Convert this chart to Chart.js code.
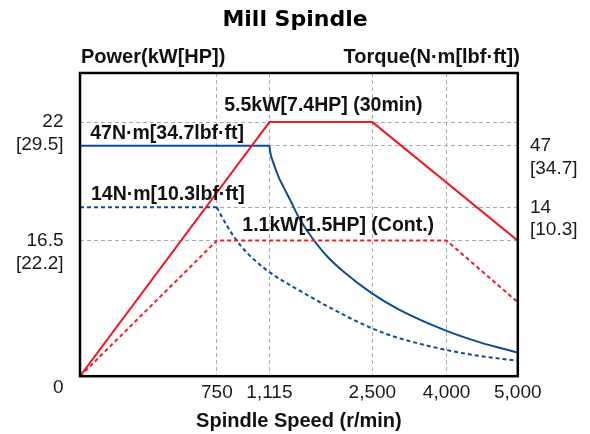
<!DOCTYPE html>
<html>
<head>
<meta charset="utf-8">
<script src="https://cdn.jsdelivr.net/npm/chart.js@4.4.1/dist/chart.umd.min.js"></script>
<style>
  html, body { margin: 0; padding: 0; background: #fff; }
  #wrap { width: 590px; height: 434px; position: relative; }
</style>
</head>
<body>
<div id="wrap"><canvas id="spindle"></canvas></div>
<script>
// --- ticks printed on the axes ---
const speedTicks = [0, 750, 1115, 2500, 4000, 5000];
const speedTickLabels = ['', '750', '1,115', '2,500', '4,000', '5,000'];
const powerTicks = [0, 16.5, 22];
const powerTickLabels = ['0', ['16.5', '[22.2]'], ['22', '[29.5]']];
const torqueTicks = [0, 14, 47];
const torqueTickLabels = ['', ['14', '[10.3]'], ['47', '[34.7]']];

// --- series (speed r/min / power kW / torque N·m) ---
const power30Speed = [0, 1115, 2500, 5000];
const power30 = [0, 22, 22, 16.5];
const powerContSpeed = [0, 750, 4000, 5000];
const powerCont = [0, 16.5, 16.5, 9.0];
const torque30FlatSpeed = [0, 1115];
const torque30Flat = [47, 47];
const torque30Speed = [1115, 1124, 1169, 1236, 1326, 1416, 1505, 1662, 1887, 2110, 2500, 3059, 4000, 4469, 5000];
const torque30 = [47, 43.9, 37.7, 30.5, 23.2, 16.15, 13.2, 11.7, 9.96, 8.68, 6.84, 5.47, 3.75, 2.8, 1.95];
const torqueContFlatSpeed = [0, 750];
const torqueContFlat = [14, 14];
const torqueContSpeed = [750, 787, 842, 911, 981, 1124, 1528, 1976, 2500, 3059, 4000, 4469, 5000];
const torqueCont = [14, 13.16, 12.04, 10.88, 9.96, 8.58, 7.06, 5.53, 3.95, 3.13, 2.17, 1.67, 1.28];

// the printed axes are not linear: where each tick sits along its axis (0..1)
const speedAxisPos = [0, 0.3126, 0.4327, 0.6678, 0.8374, 1];
const powerAxisPos = [0, 0.4472, 0.838];
const torqueAxisPos = [0, 0.5574, 0.7597];

function warp(v, ticks, pos) {
  for (let i = 0; i < ticks.length - 1; i++) {
    if (v <= ticks[i + 1] || i === ticks.length - 2)
      return pos[i] + (v - ticks[i]) / (ticks[i + 1] - ticks[i]) * (pos[i + 1] - pos[i]);
  }
}
const sx = v => warp(v, speedTicks, speedAxisPos);
const py = v => warp(v, powerTicks, powerAxisPos);
const ty = v => warp(v, torqueTicks, torqueAxisPos);
const pts = (xs, ys, f) => xs.map((x, i) => ({x: sx(x), y: f(ys[i])}));

const RED = '#ee1c25', BLUE = '#0b4c96', GRID = '#ababab';
const FONT = "'Liberation Sans', Arial, sans-serif";
Chart.defaults.font.family = FONT;
Chart.defaults.color = '#1a1a1a';

function line(data, color, axis, dash, smooth) {
  return {
    data, yAxisID: axis, borderColor: color, borderWidth: 2, borderDash: dash || [],
    pointRadius: 0, fill: false, cubicInterpolationMode: smooth ? 'monotone' : 'default', tension: 0
  };
}

const notesPlugin = {
  id: 'notes',
  afterDatasetsDraw(chart) {
    const {ctx, chartArea: a, scales} = chart;
    const X = v => scales.x.getPixelForValue(sx(v));
    const P = v => scales.y.getPixelForValue(py(v));
    const T = v => scales.y2.getPixelForValue(ty(v));
    ctx.save();
    ctx.strokeStyle = '#000';
    ctx.lineWidth = 2.5;
    ctx.strokeRect(a.left, a.top, a.right - a.left, a.bottom - a.top);
    ctx.fillStyle = '#111';
    ctx.textBaseline = 'alphabetic';
    ctx.font = 'bold 20px ' + FONT;
    ctx.textAlign = 'left';
    ctx.fillText('Power(kW[HP])', a.left + 1, a.top - 10);
    ctx.textAlign = 'right';
    ctx.fillText('Torque(N·m[lbf·ft])', a.right + 2, a.top - 10);
    ctx.font = 'bold 19.5px ' + FONT;
    ctx.textAlign = 'center';
    ctx.fillText('5.5kW[7.4HP] (30min)', (X(1115) + X(2500)) / 2 + 2.5, P(22) - 11.6);
    ctx.fillText('1.1kW[1.5HP] (Cont.)', (X(750) + X(4000)) / 2 + 6.5, P(16.5) - 10);
    ctx.textAlign = 'left';
    ctx.fillText('47N·m[34.7lbf·ft]', X(0) + 10.2, T(47) - 6.7);
    ctx.fillText('14N·m[10.3lbf·ft]', X(0) + 11, T(14) - 7.3);
    ctx.restore();
  }
};

const hideEdge = last => c => (c.index === 0 || c.index === last) ? 'rgba(0,0,0,0)' : GRID;

new Chart(document.getElementById('spindle'), {
  type: 'line',
  data: {
    datasets: [
      line(pts(power30Speed, power30, py), RED, 'y'),
      line(pts(powerContSpeed, powerCont, py), RED, 'y', [4, 3]),
      line(pts(torque30FlatSpeed, torque30Flat, ty), BLUE, 'y2'),
      line(pts(torque30Speed, torque30, ty), BLUE, 'y2', null, true),
      line(pts(torqueContFlatSpeed, torqueContFlat, ty), BLUE, 'y2', [4, 3]),
      line(pts(torqueContSpeed, torqueCont, ty), BLUE, 'y2', [4, 3], true)
    ]
  },
  options: {
    responsive: true,
    maintainAspectRatio: false,
    animation: false,
    layout: {padding: 0},
    plugins: {
      legend: {display: false},
      tooltip: {enabled: false},
      title: {
        display: true, text: 'Mill Spindle', color: '#000',
        font: {family: "'DejaVu Sans', sans-serif", size: 22, weight: 'bold'},
        padding: {top: 7.5, bottom: 39.1}
      }
    },
    scales: {
      x: {
        type: 'linear', min: 0, max: 1,
        afterBuildTicks: s => { s.ticks = speedTicks.map(v => ({value: sx(v)})); },
        afterFit: s => { s.height = 57.8; },
        ticks: {callback: (v, i) => speedTickLabels[i], font: {size: 19}, padding: 5, maxRotation: 0, autoSkip: false},
        grid: {drawTicks: false, color: hideEdge(speedTicks.length - 1), lineWidth: 1},
        border: {display: false, dash: [4, 3]},
        title: {display: true, text: 'Spindle Speed (r/min)', color: '#111', font: {size: 20, weight: 'bold'}, padding: {top: 0, bottom: 1}}
      },
      y: {
        position: 'left', min: 0, max: 1,
        afterBuildTicks: s => { s.ticks = powerTicks.map(v => ({value: py(v)})); },
        afterFit: s => { s.width = 80; },
        ticks: {callback: (v, i) => powerTickLabels[i], font: {size: 19}, padding: 16.5, labelOffset: 11.5},
        grid: {drawTicks: false, color: hideEdge(-1), lineWidth: 1},
        border: {display: false, dash: [4, 3]}
      },
      y2: {
        position: 'right', min: 0, max: 1,
        afterBuildTicks: s => { s.ticks = torqueTicks.map(v => ({value: ty(v)})); },
        afterFit: s => { s.width = 72.2; },
        ticks: {callback: (v, i) => torqueTickLabels[i], font: {size: 19}, padding: 12.2, labelOffset: 11.5},
        grid: {drawTicks: false, color: hideEdge(-1), lineWidth: 1},
        border: {display: false, dash: [4, 3]}
      }
    }
  },
  plugins: [notesPlugin]
});
</script>
</body>
</html>
